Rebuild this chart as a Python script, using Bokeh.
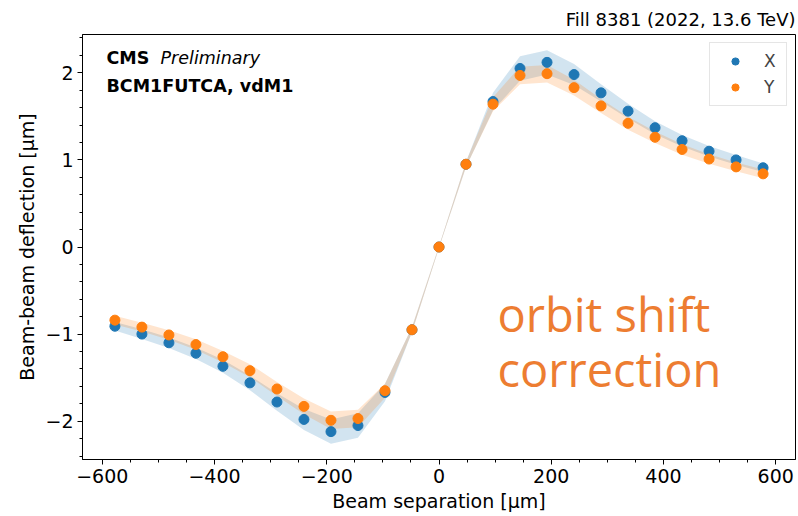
import numpy as np
from bokeh.plotting import figure
from bokeh.models import (ColumnDataSource, Range1d, SingleIntervalTicker,
                          CustomJSTickFormatter, Label, Legend, LegendItem)
from bokeh.embed import file_html
from bokeh.resources import INLINE

# Beam separation scan points [um]
separation = [-577.5, -529.375, -481.25, -433.125, -385.0, -336.875, -288.75,
              -240.625, -192.5, -144.375, -96.25, -48.125, 0.0, 48.125, 96.25,
              144.375, 192.5, 240.625, 288.75, 336.875, 385.0, 433.125,
              481.25, 529.375, 577.5]

# Beam-beam deflection [um] in X and Y
defl_x = [-0.91, -1.00, -1.10, -1.22, -1.37, -1.56, -1.78, -1.98, -2.12, -2.05,
          -1.67, -0.95, 0.00, 0.95, 1.67, 2.05, 2.12, 1.98, 1.77, 1.56, 1.37,
          1.22, 1.10, 1.00, 0.91]
defl_y = [-0.84, -0.92, -1.01, -1.12, -1.26, -1.42, -1.63, -1.83, -1.99, -1.97,
          -1.65, -0.95, 0.00, 0.95, 1.64, 1.97, 1.99, 1.83, 1.62, 1.42, 1.26,
          1.12, 1.01, 0.92, 0.84]

# Half-width of the uncertainty bands [um]
err_x = [0.05, 0.055, 0.06, 0.065, 0.075, 0.085, 0.10, 0.12, 0.14, 0.14, 0.10,
         0.03, 0.01, 0.03, 0.10, 0.14, 0.14, 0.12, 0.10, 0.085, 0.075, 0.065,
         0.06, 0.055, 0.05]
err_y = [0.05, 0.05, 0.055, 0.06, 0.065, 0.075, 0.08, 0.09, 0.10, 0.10, 0.08,
         0.03, 0.01, 0.03, 0.08, 0.10, 0.10, 0.09, 0.08, 0.075, 0.065, 0.06,
         0.055, 0.05, 0.05]

BLUE = "#1f77b4"
ORANGE = "#ff7f0e"
FONT = "DejaVu Sans"

dx = np.array(defl_x)
dy = np.array(defl_y)
ex = np.array(err_x)
ey = np.array(err_y)

src = ColumnDataSource(dict(
    sep=separation, X=defl_x, Y=defl_y,
    X_lo=dx - ex, X_hi=dx + ex, Y_lo=dy - ey, Y_hi=dy + ey,
))

p = figure(width=798, height=516, output_backend="svg", toolbar_location=None,
           x_range=Range1d(-635.25, 635.25), y_range=Range1d(-2.44, 2.44),
           min_border_left=82, min_border_right=3, min_border_top=34,
           min_border_bottom=57)
p.background_fill_color = "white"
p.border_fill_color = "white"
p.outline_line_color = "black"
p.outline_line_width = 1
p.xgrid.visible = False
p.ygrid.visible = False

p.title.text = "Fill 8381 (2022, 13.6 TeV)"
p.title.align = "right"
p.title.text_font = FONT
p.title.text_font_size = "18px"
p.title.text_font_style = "normal"
p.title.text_color = "black"

# uncertainty bands
p.varea(x="sep", y1="X_lo", y2="X_hi", source=src, fill_color=BLUE, fill_alpha=0.2)
p.varea(x="sep", y1="Y_lo", y2="Y_hi", source=src, fill_color=ORANGE, fill_alpha=0.2)

rx = p.scatter(x="sep", y="X", source=src, size=10, fill_color=BLUE, line_color=BLUE)
ry = p.scatter(x="sep", y="Y", source=src, size=10, fill_color=ORANGE, line_color=ORANGE)

fmt = CustomJSTickFormatter(code="return (tick < 0 ? '\\u2212' : '') + Math.abs(tick).toFixed(0);")

xa = p.xaxis[0]
xa.ticker = SingleIntervalTicker(interval=200, num_minor_ticks=4)
xa.formatter = fmt
xa.axis_label = "Beam separation [μm]"
ya = p.yaxis[0]
ya.ticker = SingleIntervalTicker(interval=1, num_minor_ticks=5)
ya.formatter = fmt
ya.axis_label = "Beam-beam deflection [μm]"

for ax in (xa, ya):
    ax.axis_line_color = "black"
    ax.major_tick_line_color = "black"
    ax.minor_tick_line_color = "black"
    ax.major_tick_in = 0
    ax.major_tick_out = 5
    ax.minor_tick_in = 0
    ax.minor_tick_out = 3
    ax.major_label_text_font = FONT
    ax.major_label_text_font_size = "19px"
    ax.major_label_text_color = "black"
    ax.axis_label_text_font = FONT
    ax.axis_label_text_font_size = "19px"
    ax.axis_label_text_font_style = "normal"
    ax.axis_label_text_color = "black"
    ax.major_label_standoff = 4
    ax.axis_label_standoff = 4

legend = Legend(items=[LegendItem(label="X", renderers=[rx]),
                       LegendItem(label="Y", renderers=[ry])],
                location="top_right")
legend.label_text_font = FONT
legend.label_text_font_size = "17px"
legend.padding = 8
legend.spacing = 6
legend.margin = 8
legend.glyph_width = 34
legend.glyph_height = 18
legend.label_height = 18
legend.label_width = 14
legend.label_standoff = 12
legend.border_line_color = "#cccccc"
legend.border_line_width = 1
legend.background_fill_alpha = 0.8
p.add_layout(legend)

# experiment tags
TAG = "17.5px"
p.add_layout(Label(x=24, y=392, x_units="screen", y_units="screen", text="CMS",
                   text_font=FONT, text_font_size=TAG, text_font_style="bold",
                   text_color="black"))
p.add_layout(Label(x=78, y=392, x_units="screen", y_units="screen", text="Preliminary",
                   text_font=FONT, text_font_size=TAG, text_font_style="italic",
                   text_color="black"))
p.add_layout(Label(x=24, y=364, x_units="screen", y_units="screen", text="BCM1FUTCA, vdM1",
                   text_font=FONT, text_font_size=TAG, text_font_style="bold",
                   text_color="black"))

# annotation
NOTE = "#ED7D31"
p.add_layout(Label(x=415, y=114, x_units="screen", y_units="screen", text="orbit shift",
                   text_font="Open Sans", text_font_size="47px", text_color=NOTE))
p.add_layout(Label(x=415, y=59, x_units="screen", y_units="screen", text="correction",
                   text_font="Open Sans", text_font_size="47px", text_color=NOTE))

with open("out.html", "w", encoding="utf-8") as f:
    f.write(file_html(p, INLINE))
